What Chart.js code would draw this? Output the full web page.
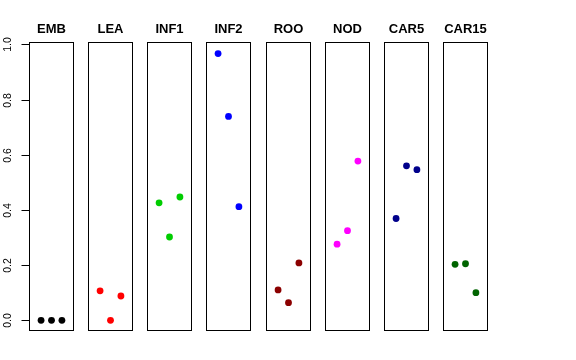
<!DOCTYPE html>
<html>
<head>
<meta charset="utf-8">
<script src="https://cdn.jsdelivr.net/npm/chart.js@4/dist/chart.umd.min.js"></script>
<style>
  html, body { margin: 0; padding: 0; background: #fff; }
  #wrap { position: relative; width: 576px; height: 360px; overflow: hidden; }
  #wrap canvas { position: absolute; top: 0; }
</style>
</head>
<body>
<div id="wrap"></div>
<script>
// panel names and the three replicate positions inside each panel
const categories = ['EMB', 'LEA', 'INF1', 'INF2', 'ROO', 'NOD', 'CAR5', 'CAR15'];
const replicates = [1, 2, 3];

// values, one array per panel
const embValues = [0, 0, 0];
const leaValues = [0.107, 0.0, 0.088];
const inf1Values = [0.426, 0.302, 0.447];
const inf2Values = [0.967, 0.739, 0.412];
const rooValues = [0.110, 0.064, 0.208];
const nodValues = [0.276, 0.325, 0.577];
const car5Values = [0.369, 0.560, 0.546];
const car15Values = [0.203, 0.205, 0.100];

const yTicks = [0, 0.2, 0.4, 0.6, 0.8, 1.0];
const yTickLabels = ['0.0', '0.2', '0.4', '0.6', '0.8', '1.0'];

const seriesValues = [embValues, leaValues, inf1Values, inf2Values, rooValues, nodValues, car5Values, car15Values];
const colors = ['#000000', '#ff0000', '#00cd00', '#0000ff', '#8b0000', '#ff00ff', '#00008b', '#006400'];

// R-style 4% extension of the ranges
const yMin = -0.0388, yMax = 1.0088;
const xMin = -0.16, xMax = 4.16;

const FONT = '"Liberation Sans", Arial, Helvetica, sans-serif';
const panelTop = 42, panelBottom = 331, panelW = 45, pitch = 59.14, firstLeft = 29;

const panelPlugin = {
  id: 'panelDecor',
  afterDraw(chart, args, opts) {
    const { ctx, chartArea } = chart;
    const a = chartArea;
    ctx.save();
    // frame
    ctx.strokeStyle = '#000';
    ctx.lineWidth = 1;
    ctx.strokeRect(Math.round(a.left) + 0.5, Math.round(a.top) + 0.5,
      Math.round(a.right - a.left) - 1, Math.round(a.bottom - a.top) - 1);
    // title
    ctx.fillStyle = '#000';
    ctx.font = 'bold 13px ' + FONT;
    ctx.textAlign = 'center';
    ctx.textBaseline = 'alphabetic';
    ctx.fillText(opts.title, (a.left + a.right) / 2, 33);
    // y axis on first panel only
    if (opts.axis) {
      const y = chart.scales.y;
      const x0 = Math.round(a.left) + 0.5;
      ctx.beginPath();
      ctx.moveTo(x0, Math.round(y.getPixelForValue(yTicks[0])) + 0.5);
      ctx.lineTo(x0, Math.round(y.getPixelForValue(yTicks[yTicks.length - 1])) + 0.5);
      ctx.stroke();
      ctx.font = '10.5px ' + FONT;
      yTicks.forEach((v, i) => {
        const py = Math.round(y.getPixelForValue(v)) + 0.5;
        ctx.beginPath();
        ctx.moveTo(x0 - 8, py);
        ctx.lineTo(x0, py);
        ctx.stroke();
        ctx.save();
        ctx.translate(8.5, py);
        ctx.rotate(-Math.PI / 2);
        ctx.textAlign = 'center';
        ctx.textBaseline = 'middle';
        ctx.fillText(yTickLabels[i], 0, 0);
        ctx.restore();
      });
    }
    ctx.restore();
  }
};

const wrap = document.getElementById('wrap');

categories.forEach((name, i) => {
  const left = Math.round(firstLeft + i * pitch);
  const padL = i === 0 ? left : 10;
  const padR = 10;
  const canvas = document.createElement('canvas');
  canvas.width = padL + panelW + padR;
  canvas.height = 360;
  canvas.style.left = (left - padL) + 'px';
  wrap.appendChild(canvas);

  new Chart(canvas.getContext('2d'), {
    type: 'scatter',
    data: {
      datasets: [{
        data: seriesValues[i].map((v, j) => ({ x: replicates[j], y: v })),
        backgroundColor: colors[i],
        borderColor: colors[i],
        borderWidth: 0,
        pointRadius: 3.4,
        pointHoverRadius: 3.4
      }]
    },
    options: {
      responsive: false,
      animation: false,
      events: [],
      layout: {
        padding: { left: padL, right: padR, top: panelTop, bottom: 360 - panelBottom }
      },
      scales: {
        x: { type: 'linear', min: xMin, max: xMax, display: false },
        y: { type: 'linear', min: yMin, max: yMax, display: false }
      },
      plugins: {
        legend: { display: false },
        tooltip: { enabled: false },
        panelDecor: { title: name, axis: i === 0 }
      }
    },
    plugins: [panelPlugin]
  });
});
</script>
</body>
</html>
